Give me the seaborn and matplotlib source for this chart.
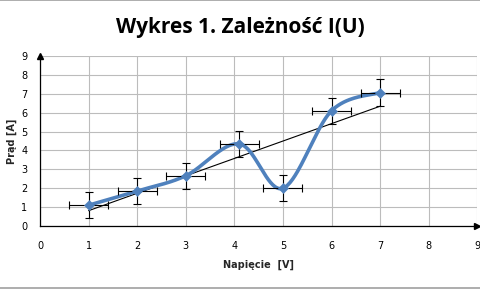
import numpy as np
import pandas as pd
import seaborn as sns
from matplotlib import pyplot as plt

# measured points
napiecie = [1, 2, 3, 4.1, 5, 6, 7]
prad = [1.1, 1.85, 2.66, 4.35, 2.0, 6.1, 7.07]
err_u = 0.4
err_i = 0.7

BLUE = '#4f81bd'

df = pd.DataFrame({'U': napiecie, 'I': prad})


def smooth(x, y, n=40):
    # Catmull-Rom style smoothing, like the spreadsheet "smoothed line"
    x = np.asarray(x, float)
    y = np.asarray(y, float)
    px = np.concatenate([[x[0]], x, [x[-1]]])
    py = np.concatenate([[y[0]], y, [y[-1]]])
    xs, ys = [], []
    for i in range(1, len(px) - 2):
        p0, p1, p2, p3 = [np.array([px[j], py[j]]) for j in (i - 1, i, i + 1, i + 2)]
        c1 = p1 + (p2 - p0) / 6
        c2 = p2 - (p3 - p1) / 6
        t = np.linspace(0, 1, n)[:, None]
        b = ((1 - t) ** 3 * p1 + 3 * (1 - t) ** 2 * t * c1
             + 3 * (1 - t) * t ** 2 * c2 + t ** 3 * p2)
        xs.append(b[:, 0])
        ys.append(b[:, 1])
    return np.concatenate(xs), np.concatenate(ys)


sns.set_style('white')
plt.rcParams['font.family'] = ['DejaVu Sans']

fig = plt.figure(figsize=(4.8, 2.89), dpi=100)
ax = fig.add_axes([0.0833, 0.218, 0.911, 0.588])

# trend line (linear fit)
a, b = np.polyfit(napiecie, prad, 1)
tx = np.array([min(napiecie), max(napiecie)])
sns.lineplot(x=tx, y=a * tx + b, color='black', linewidth=0.8, ax=ax, zorder=3)

sx, sy = smooth(napiecie, prad)
sns.lineplot(x=sx, y=sy, color=BLUE, linewidth=2.6, sort=False, ax=ax, zorder=4)
ax.errorbar(df['U'], df['I'], xerr=err_u, yerr=err_i, fmt='none',
            ecolor='black', elinewidth=0.8, capsize=3, capthick=0.8, zorder=5)
sns.scatterplot(data=df, x='U', y='I', color=BLUE, marker='D', s=26,
                edgecolor=BLUE, ax=ax, zorder=6)

ax.set_xlim(0, 9)
ax.set_ylim(0, 9)
ax.set_xticks(range(10))
ax.set_yticks(range(10))
ax.grid(True, color='#bcbcbc', linewidth=0.8)
for s in ['top', 'right']:
    ax.spines[s].set_visible(False)
for s in ['left', 'bottom']:
    ax.spines[s].set_color('black')
    ax.spines[s].set_linewidth(0.9)
ax.tick_params(axis='both', direction='out', length=4, width=0.8,
               labelsize=7, colors='black', pad=5)
ax.tick_params(axis='x', pad=7)

# arrow heads on the axes
ax.plot(1, 0, '>k', markersize=5, transform=ax.transAxes, clip_on=False)
ax.plot(0, 1, '^k', markersize=5, transform=ax.transAxes, clip_on=False)

ax.set_xlabel('Napięcie  [V]', fontsize=7, fontweight='bold', labelpad=6)
ax.set_ylabel('Prąd [A]', fontsize=7, fontweight='bold', labelpad=3)
fig.suptitle('Wykres 1. Zależność I(U)', y=0.94, fontsize=15,
             fontweight='bold', color='black',
             family=['Open Sans', 'DejaVu Sans'])

# chart frame lines at top and bottom
fig.add_artist(plt.Line2D([0, 1], [0.999, 0.999], color='#a0a0a0', linewidth=1.2))
fig.add_artist(plt.Line2D([0, 1], [0.002, 0.002], color='#a0a0a0', linewidth=1.2))

plt.savefig('out.png')
plt.close()
